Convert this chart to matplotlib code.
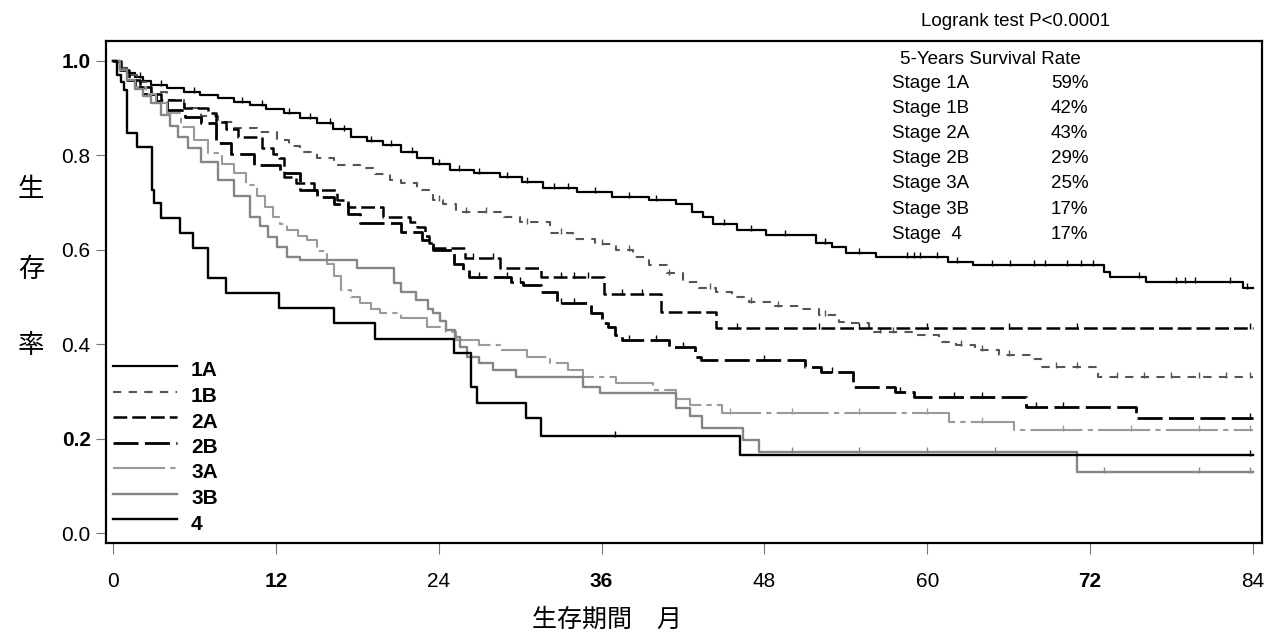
import numpy as np
import matplotlib
matplotlib.use("Agg")
import matplotlib.pyplot as plt
from matplotlib.lines import Line2D

plt.rcParams['font.family'] = ['Liberation Sans', 'Noto Sans CJK JP']

# Kaplan-Meier steps: month the step starts, survival after it
t_1a = [0, 0.5, 1.0, 1.6, 2.2, 2.8, 4.0, 5.2, 6.4, 7.7, 8.9, 10.1, 11.3, 12.6, 13.8, 15.0,
        16.2, 17.5, 18.7, 19.9, 21.2, 22.4, 23.6, 24.8, 26.6, 28.5, 30.1, 31.7, 34.2, 36.8,
        39.5, 41.5, 42.7, 43.5, 44.2, 46.0, 48.1, 51.8, 53.0, 54.0, 56.2, 61.5, 63.4, 73.0,
        73.5, 76.1, 83.3]
s_1a = [1.0, 0.985, 0.975, 0.966, 0.957, 0.949, 0.942, 0.935, 0.928, 0.921, 0.914, 0.907,
        0.899, 0.890, 0.880, 0.869, 0.855, 0.840, 0.831, 0.822, 0.808, 0.794, 0.781, 0.769,
        0.762, 0.755, 0.743, 0.731, 0.722, 0.712, 0.705, 0.698, 0.680, 0.670, 0.655, 0.643,
        0.631, 0.614, 0.605, 0.593, 0.585, 0.575, 0.568, 0.554, 0.543, 0.532, 0.519]

t_1b = [0, 0.5, 1.0, 1.8, 2.8, 4.0, 5.2, 6.5, 7.7, 8.9, 10.6, 12.1, 13.0, 13.8, 15.0, 16.3,
        18.2, 19.3, 20.4, 21.2, 22.4, 23.6, 24.3, 25.3, 28.8, 30.0, 32.2, 33.9, 35.5, 37.1,
        38.3, 39.5, 40.8, 42.0, 43.2, 44.4, 45.6, 46.9, 48.5, 50.6, 52.0, 53.5, 54.0, 55.7,
        59.1, 60.9, 62.1, 63.5, 65.3, 67.7, 68.4, 72.6]
s_1b = [1.0, 0.985, 0.97, 0.955, 0.935, 0.917, 0.90, 0.883, 0.870, 0.859, 0.850, 0.833,
        0.820, 0.808, 0.794, 0.780, 0.773, 0.760, 0.748, 0.741, 0.727, 0.706, 0.698, 0.681,
        0.670, 0.658, 0.635, 0.624, 0.612, 0.600, 0.585, 0.568, 0.550, 0.532, 0.520, 0.511,
        0.500, 0.490, 0.482, 0.474, 0.462, 0.448, 0.444, 0.426, 0.419, 0.405, 0.398, 0.388,
        0.377, 0.368, 0.352, 0.330]

t_2a = [0, 0.6, 1.2, 2.0, 2.8, 3.5, 5.2, 7.0, 7.6, 8.3, 9.2, 11.0, 11.8, 12.2, 12.6, 13.5,
        14.8, 16.5, 17.3, 19.9, 21.9, 22.4, 23.0, 23.3, 23.6, 25.9, 28.5, 31.5, 36.2, 40.4,
        44.4]
s_2a = [1.0, 0.98, 0.96, 0.945, 0.93, 0.917, 0.90, 0.89, 0.87, 0.855, 0.840, 0.815, 0.804,
        0.794, 0.755, 0.741, 0.727, 0.706, 0.691, 0.670, 0.660, 0.649, 0.630, 0.614, 0.604,
        0.582, 0.561, 0.543, 0.506, 0.469, 0.434]

t_2b = [0, 0.5, 1.0, 1.6, 2.3, 3.2, 4.0, 5.3, 6.5, 7.6, 8.7, 10.4, 12.3, 13.8, 15.0, 16.3,
        17.3, 18.2, 21.2, 22.8, 23.6, 25.1, 25.8, 26.2, 29.3, 30.2, 31.5, 32.7, 35.2, 36.0,
        36.5, 37.0, 37.5, 41.0, 42.9, 43.3, 51.0, 52.2, 54.5, 57.6, 59.0, 67.3, 75.4]
s_2b = [1.0, 0.98, 0.96, 0.945, 0.93, 0.915, 0.896, 0.882, 0.868, 0.826, 0.804, 0.780,
        0.762, 0.727, 0.712, 0.698, 0.676, 0.656, 0.638, 0.620, 0.600, 0.571, 0.557, 0.543,
        0.532, 0.525, 0.511, 0.487, 0.466, 0.445, 0.436, 0.419, 0.409, 0.395, 0.374, 0.366,
        0.352, 0.342, 0.310, 0.299, 0.289, 0.268, 0.243]

t_3a = [0, 0.5, 1.0, 1.6, 2.4, 3.2, 4.0, 5.0, 6.0, 7.0, 8.0, 8.9, 9.8, 10.6, 11.2, 11.8,
        12.3, 12.8, 13.6, 14.3, 15.0, 15.8, 16.3, 16.8, 17.5, 18.2, 19.0, 19.7, 21.2, 23.1,
        24.5, 25.3, 27.0, 28.5, 30.5, 32.2, 33.5, 34.6, 37.1, 39.8, 41.5, 42.5, 44.9, 61.6,
        66.4]
s_3a = [1.0, 0.98, 0.96, 0.945, 0.93, 0.91, 0.89, 0.86, 0.833, 0.805, 0.782, 0.762, 0.738,
        0.713, 0.690, 0.670, 0.655, 0.642, 0.630, 0.621, 0.598, 0.571, 0.545, 0.515, 0.500,
        0.487, 0.475, 0.466, 0.455, 0.437, 0.425, 0.409, 0.398, 0.388, 0.374, 0.360, 0.345,
        0.331, 0.317, 0.303, 0.285, 0.271, 0.254, 0.236, 0.218]

t_3b = [0, 0.5, 1.0, 1.6, 2.2, 2.8, 3.5, 4.2, 4.75, 5.5, 6.5, 7.7, 8.9, 10.1, 10.8, 11.4,
        12.1, 12.8, 13.8, 18.0, 20.7, 21.2, 22.3, 23.2, 23.6, 24.1, 24.5, 25.2, 25.6, 26.1,
        27.0, 28.0, 29.7, 34.6, 35.9, 41.5, 42.5, 43.4, 46.4, 47.6, 71.0]
s_3b = [1.0, 0.98, 0.96, 0.94, 0.925, 0.91, 0.885, 0.862, 0.840, 0.815, 0.785, 0.748,
        0.713, 0.670, 0.650, 0.628, 0.605, 0.585, 0.578, 0.561, 0.529, 0.511, 0.494, 0.475,
        0.466, 0.449, 0.430, 0.415, 0.395, 0.374, 0.360, 0.345, 0.331, 0.310, 0.296, 0.264,
        0.247, 0.222, 0.197, 0.172, 0.130]

t_4 = [0, 0.3, 0.6, 0.8, 1.0, 1.8, 2.85, 3.0, 3.5, 4.9, 5.9, 7.0, 8.3, 12.2, 16.3, 19.3,
       25.1, 26.4, 26.8, 30.4, 31.5, 46.2]
s_4 = [1.0, 0.97, 0.955, 0.939, 0.847, 0.818, 0.727, 0.699, 0.667, 0.636, 0.604, 0.540,
       0.508, 0.477, 0.445, 0.412, 0.381, 0.310, 0.275, 0.244, 0.206, 0.165]

# censored observations (tick marks)
c_1a = [2.0, 3.5, 6.0, 9.5, 11.0, 13.0, 14.5, 16.0, 17.0, 19.0, 20.5, 22.0, 24.0, 25.5,
        27.0, 29.0, 30.5, 32.5, 33.5, 35.5, 38.0, 40.0, 45.0, 47.0, 49.5, 52.5, 55.0, 58.5,
        59.0, 59.5, 60.7, 62.2, 64.8, 66.1, 67.9, 68.7, 70.3, 71.3, 72.2, 75.6, 78.3, 79.0,
        79.7, 82.3, 83.6]
c_1b = [24.0, 26.0, 27.5, 30.5, 33.0, 36.0, 38.0, 41.0, 44.0, 47.0, 49.0, 52.5, 56.5,
        57.5, 62.5, 64.0, 66.0, 69.5, 71.0, 74.0, 76.0, 78.0, 80.0, 82.0, 83.8]
c_2a = [26.5, 28.0, 33.0, 34.0, 35.0, 37.5, 39.0, 46.0, 52.0, 55.0, 60.0, 66.0, 71.0, 83.8]
c_2b = [27.0, 29.0, 30.0, 33.0, 34.0, 38.0, 40.0, 42.0, 48.0, 53.0, 58.0, 62.0, 64.0, 68.0,
        70.0, 83.8]
c_3a = [45.5, 50.0, 55.0, 60.0, 64.0, 70.0, 75.0, 80.0, 83.8]
c_3b = [50.0, 55.0, 60.0, 65.0, 73.0, 80.0, 83.8]
c_4 = [37.0, 83.8]

labels = ["1A", "1B", "2A", "2B", "3A", "3B", "4"]
five_year = ["59%", "42%", "43%", "29%", "25%", "17%", "17%"]
stage_names = ["Stage 1A", "Stage 1B", "Stage 2A", "Stage 2B", "Stage 3A", "Stage 3B", "Stage  4"]

series = [(t_1a, s_1a, c_1a), (t_1b, s_1b, c_1b), (t_2a, s_2a, c_2a), (t_2b, s_2b, c_2b),
          (t_3a, s_3a, c_3a), (t_3b, s_3b, c_3b), (t_4, s_4, c_4)]
styles = [
    dict(color="black", lw=1.6, dashes=()),
    dict(color="#555555", lw=1.5, dashes=(4, 3.5)),
    dict(color="black", lw=1.8, dashes=(5.5, 2)),
    dict(color="black", lw=2.0, dashes=(9, 2.3)),
    dict(color="#9a9a9a", lw=1.5, dashes=(25, 2.5, 2.5, 2.5)),
    dict(color="#858585", lw=1.7, dashes=()),
    dict(color="black", lw=1.7, dashes=()),
]

W, H = 1279, 640
fig = plt.figure(figsize=(W / 100, H / 100), dpi=100)


def fx(x):
    return x / W


def fy(y):
    return 1 - y / H


ax = fig.add_axes([fx(106), fy(543), (1262 - 106) / W, (543 - 40.7) / H])

END = 84
for (t, s, c), st in zip(series, styles):
    tt = list(t) + [END]
    ss = list(s) + [s[-1]]
    line, = ax.plot(tt, ss, drawstyle="steps-post", color=st["color"], lw=st["lw"])
    if st["dashes"]:
        line.set_dashes(st["dashes"])
    idx = np.searchsorted(t, c, side="right") - 1
    ax.plot(c, np.array(s)[idx] + 0.004, ls="none", marker="|", ms=5, mew=1.0,
            color=st["color"])

ax.set_xlim(-0.52, 84.67)
ax.set_ylim(-0.021, 1.043)
ax.set_xticks([0, 12, 24, 36, 48, 60, 72, 84])
ax.set_yticks([0.0, 0.2, 0.4, 0.6, 0.8, 1.0])
ax.set_yticklabels(["0.0", "0.2", "0.4", "0.6", "0.8", "1.0"])
ax.tick_params(axis="x", direction="out", length=8, width=0.8, color="#777777",
               labelsize=15, pad=13)
ax.tick_params(axis="y", direction="out", length=7, width=0.8, color="#777777",
               labelsize=15, pad=4)
for lab in ax.get_xticklabels():
    if lab.get_text() in ("12", "36", "72"):
        lab.set_fontweight("bold")
for lab in ax.get_yticklabels():
    if lab.get_text() in ("1.0", "0.2"):
        lab.set_fontweight("bold")
for sp in ax.spines.values():
    sp.set_linewidth(1.6)
    sp.set_color("black")

# legend (manual, lower left inside the axes)
for i, (lab, st) in enumerate(zip(labels, styles)):
    yl = 366 + 25.5 * i
    ln = Line2D([fx(113), fx(177)], [fy(yl), fy(yl)], transform=fig.transFigure,
                color=st["color"], lw=st["lw"])
    if st["dashes"]:
        ln.set_dashes(st["dashes"])
    fig.add_artist(ln)
    fig.text(fx(191), fy(yl + 5), lab, fontsize=15, fontweight="bold", va="center",
             ha="left")

# survival rate table
fig.text(fx(921), fy(21), "Logrank test P<0.0001", fontsize=13.5, va="center", ha="left")
fig.text(fx(900), fy(60), "5-Years Survival Rate", fontsize=13.5, va="center", ha="left")
for i, (nm, pct) in enumerate(zip(stage_names, five_year)):
    yy = 83.5 + 25.1 * i
    fig.text(fx(892), fy(yy), nm, fontsize=13.5, va="center", ha="left")
    fig.text(fx(1051), fy(yy), pct, fontsize=13.5, va="center", ha="left")

# axis titles
for ch, yy in zip(["生", "存", "率"], [190, 270, 346]):
    fig.text(fx(31), fy(yy), ch, fontsize=19, va="center", ha="center")
fig.text(fx(607), fy(620), "生存期間　月", fontsize=18, va="center", ha="center")

fig.savefig("out.png", dpi=100)
